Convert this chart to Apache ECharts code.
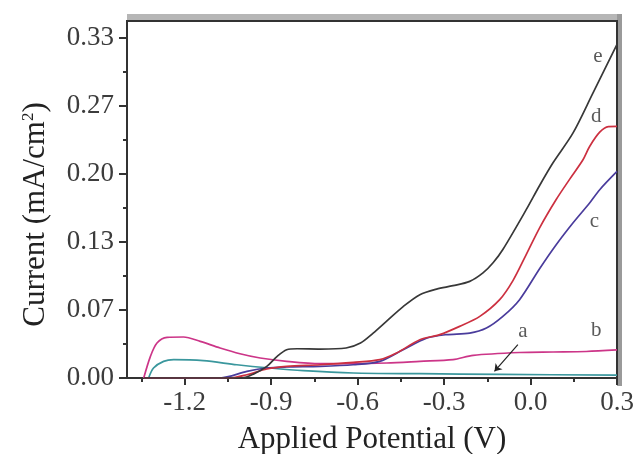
<!DOCTYPE html>
<html>
<head>
<meta charset="utf-8">
<script src="https://cdn.jsdelivr.net/npm/echarts@6/dist/echarts.min.js"></script>
<style>html,body{margin:0;padding:0;background:#fff;}#c{width:634px;height:454px;}</style>
</head>
<body>
<div id="c"></div>
<script>
// ---- data ----
const xTicks = [-1.2, -0.9, -0.6, -0.3, 0.0, 0.3];
const xTickLabels = ['-1.2', '-0.9', '-0.6', '-0.3', '0.0', '0.3'];
const xMinorTicks = [-1.35, -1.05, -0.75, -0.45, -0.15, 0.15];
const yTicks = [0, 1/15, 2/15, 3/15, 4/15, 5/15];
const yTickLabels = ['0.00', '0.07', '0.13', '0.20', '0.27', '0.33'];
const yMinorTicks = [1/30, 3/30, 5/30, 7/30, 9/30];

const aX = [-1.325, -1.308, -1.273, -1.238, -1.135, -1.019, -0.904, -0.788, -0.615, -0.384, -0.1, 0.3];
const aY = [0, 0.0098, 0.0163, 0.018, 0.017, 0.013, 0.0098, 0.0072, 0.0049, 0.0042, 0.0035, 0.0028];

const bX = [-1.342, -1.319, -1.296, -1.261, -1.204, -1.146, -1.077, -1.008, -0.938, -0.846, -0.73, -0.615, -0.499, -0.384, -0.269, -0.199, -0.038, 0.078, 0.193, 0.3];
const bY = [0, 0.021, 0.0343, 0.0398, 0.0402, 0.0359, 0.0294, 0.0238, 0.0196, 0.0163, 0.014, 0.014, 0.0147, 0.0163, 0.018, 0.0222, 0.025, 0.0255, 0.026, 0.0275];

const cX = [-1.34, -1.077, -0.984, -0.915, -0.846, -0.73, -0.615, -0.523, -0.442, -0.361, -0.292, -0.211, -0.153, -0.096, -0.038, 0.032, 0.089, 0.147, 0.205, 0.24, 0.3];
const cY = [0, 0, 0.0065, 0.0098, 0.0108, 0.0114, 0.013, 0.0163, 0.0277, 0.039, 0.0425, 0.044, 0.049, 0.0604, 0.0768, 0.1074, 0.1307, 0.152, 0.1716, 0.1846, 0.2025];

const dX = [-1.34, -1.045, -0.984, -0.915, -0.846, -0.73, -0.615, -0.523, -0.465, -0.384, -0.315, -0.246, -0.176, -0.107, -0.061, -0.015, 0.032, 0.089, 0.136, 0.182, 0.205, 0.24, 0.27, 0.3];
const dY = [0, 0, 0.0032, 0.0088, 0.0114, 0.013, 0.0153, 0.018, 0.0245, 0.0375, 0.0425, 0.0506, 0.0604, 0.0768, 0.0955, 0.121, 0.1475, 0.175, 0.195, 0.214, 0.227, 0.241, 0.2465, 0.2467];

const eX = [-1.34, -1.0, -0.96, -0.915, -0.88, -0.846, -0.81, -0.73, -0.64, -0.59, -0.546, -0.5, -0.442, -0.384, -0.326, -0.269, -0.211, -0.165, -0.13, -0.096, -0.015, 0.032, 0.078, 0.147, 0.216, 0.3];
const eY = [0, 0, 0.004, 0.0114, 0.021, 0.0277, 0.0287, 0.0284, 0.0294, 0.0343, 0.044, 0.0555, 0.070, 0.0817, 0.0872, 0.0905, 0.0947, 0.103, 0.113, 0.126, 0.165, 0.189, 0.211, 0.240, 0.279, 0.327];

const curveNames = ['a', 'b', 'c', 'd', 'e'];
const curveColors = ['#3a979d', '#cc3588', '#4a3c9c', '#cc3040', '#383838'];
const labelX = [-0.026, 0.228, 0.222, 0.228, 0.2335];
const labelY = [0.0460, 0.0470, 0.153, 0.2565, 0.315];
const arrowFrom = [-0.044, 0.0327];
const arrowTo = [-0.125, 0.0065];

// ---- chart ----
const FONT = "'Liberation Serif', 'Times New Roman', serif";
const xs = [aX, bX, cX, dX, eX];
const ys = [aY, bY, cY, dY, eY];
const zip = (x, y) => x.map((v, i) => [v, y[i]]);

const series = curveNames.map((n, i) => {
  const s = {
    name: n,
    type: 'line',
    xAxisIndex: 0, yAxisIndex: 0,
    data: zip(xs[i], ys[i]),
    showSymbol: false,
    symbol: 'none',
    smooth: 0.3,
    lineStyle: { color: curveColors[i], width: 1.7 },
    itemStyle: { color: curveColors[i] },
    emphasis: { disabled: true },
    z: 3 + i,
    markPoint: {
      symbol: 'circle', symbolSize: 0, silent: true,
      label: { show: true, position: 'inside', formatter: n, color: '#5a5a5a', fontFamily: FONT, fontSize: 21 },
      data: [{ coord: [labelX[i], labelY[i]] }]
    }
  };
  if (n === 'a') {
    s.markLine = {
      silent: true, symbol: ['none', 'arrow'], symbolSize: 7,
      lineStyle: { color: '#222', width: 1.2, type: 'solid' },
      label: { show: false },
      data: [[{ coord: arrowFrom }, { coord: arrowTo }]]
    };
  }
  return s;
});

const chart = echarts.init(document.getElementById('c'), null, { renderer: 'canvas' });
chart.setOption({
  animation: false,
  backgroundColor: '#fff',
  grid: { left: 127, right: 17, top: 21, bottom: 76, show: true, borderColor: '#333', borderWidth: 2,
          backgroundColor: 'transparent', containLabel: false, outerBoundsMode: 'none' },
  graphic: [
    { type: 'rect', shape: { x: 127, y: 14, width: 495, height: 6 }, style: { fill: '#b6b6b6' }, z: -1, silent: true },
    { type: 'rect', shape: { x: 617, y: 14, width: 5, height: 372 }, style: { fill: '#9a9a9a' }, z: -1, silent: true }
  ],
  xAxis: [{
    type: 'value', min: -1.4, max: 0.3, position: 'bottom',
    splitLine: { show: false },
    axisLine: { show: true, onZero: false, lineStyle: { color: '#333', width: 2 } },
    axisTick: { show: true, inside: false, length: 7, customValues: xTicks, lineStyle: { color: '#333', width: 2 } },
    axisLabel: { show: true, customValues: xTicks, margin: 11, color: '#3c3c3c', fontFamily: FONT, fontSize: 27,
      formatter: (v) => { const k = xTicks.findIndex(t => Math.abs(t - v) < 1e-6); return k >= 0 ? xTickLabels[k] : ''; } },
    name: 'Applied Potential (V)', nameLocation: 'middle', nameGap: 46,
    nameTextStyle: { color: '#222', fontFamily: FONT, fontSize: 31 }
  }, {
    type: 'value', min: -1.4, max: 0.3, position: 'bottom',
    splitLine: { show: false },
    axisLine: { show: false, onZero: false },
    axisTick: { show: true, inside: false, length: 4, customValues: xMinorTicks, lineStyle: { color: '#333', width: 2 } },
    axisLabel: { show: false }
  }],
  yAxis: [{
    type: 'value', min: 0, max: 0.35, position: 'left',
    splitLine: { show: false },
    axisLine: { show: true, onZero: false, lineStyle: { color: '#333', width: 2 } },
    axisTick: { show: true, inside: false, length: 8, customValues: yTicks, lineStyle: { color: '#333', width: 2 } },
    axisLabel: { show: true, customValues: yTicks, margin: 13, color: '#3c3c3c', fontFamily: FONT, fontSize: 27,
      formatter: (v) => { const k = yTicks.findIndex(t => Math.abs(t - v) < 1e-6); return k >= 0 ? yTickLabels[k] : ''; } },
    name: '{n|Current (mA/cm}{s|2}{n|)}', nameLocation: 'middle', nameGap: 76, nameRotate: 90,
    nameTextStyle: {
      color: '#222', fontFamily: FONT, fontSize: 31, padding: [0, 30, 0, 0],
      rich: {
        n: { fontFamily: FONT, fontSize: 31, color: '#222' },
        s: { fontFamily: FONT, fontSize: 17, color: '#222', verticalAlign: 'top', padding: [0, 0, 12, 0] }
      }
    }
  }, {
    type: 'value', min: 0, max: 0.35, position: 'left',
    splitLine: { show: false },
    axisLine: { show: false, onZero: false },
    axisTick: { show: true, inside: false, length: 4, customValues: yMinorTicks, lineStyle: { color: '#333', width: 2 } },
    axisLabel: { show: false }
  }],
  series: series
});
</script>
</body>
</html>
